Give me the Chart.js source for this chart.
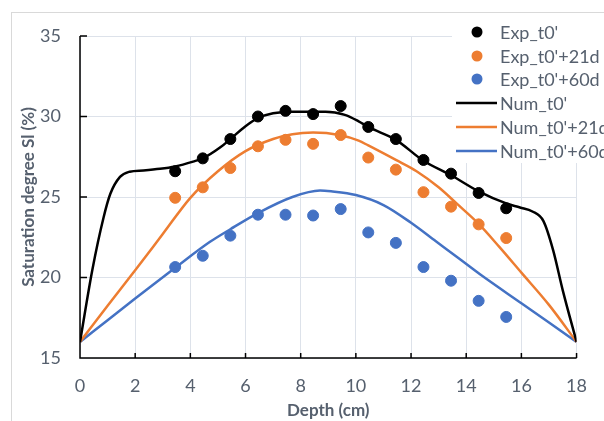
<!DOCTYPE html>
<html>
<head>
<meta charset="utf-8">
<script src="https://cdn.jsdelivr.net/npm/chart.js@4.4.1/dist/chart.umd.min.js"></script>
<style>
  html, body { margin: 0; padding: 0; background: #fff; }
  #wrap { width: 604px; height: 421px; position: relative; }
</style>
</head>
<body>
<div id="wrap"><canvas id="satChart" width="604" height="421"></canvas></div>
<script>
// measured points (depth in cm)
var expDepth = [3.45, 4.45, 5.45, 6.45, 7.45, 8.45, 9.45, 10.45, 11.45, 12.45, 13.45, 14.45, 15.45];
var expT0 = [26.6, 27.4, 28.6, 30.0, 30.35, 30.15, 30.65, 29.35, 28.6, 27.3, 26.45, 25.25, 24.3];
var expT21 = [24.95, 25.6, 26.8, 28.15, 28.55, 28.3, 28.85, 27.45, 26.7, 25.3, 24.4, 23.3, 22.45];
var expT60 = [20.65, 21.35, 22.6, 23.9, 23.9, 23.85, 24.25, 22.8, 22.15, 20.65, 19.8, 18.55, 17.55];

// numerical curves
var numDepth0 = [0, 0.45, 0.85, 1.1, 1.45, 1.8, 2.3, 2.9, 3.45, 4.1, 4.45, 5.1, 5.45, 6.0, 6.45, 7.0, 7.7, 8.9, 9.6, 10.1, 10.45, 11.45, 12.45, 13.45, 14.45, 15.45, 15.95, 16.4, 16.8, 17.15, 17.5, 18];
var numT0 = [16, 20.5, 23.7, 25.2, 26.25, 26.57, 26.65, 26.75, 26.9, 27.2, 27.4, 28.1, 28.6, 29.4, 29.9, 30.2, 30.3, 30.3, 30.1, 29.7, 29.35, 28.55, 27.25, 26.35, 25.35, 24.6, 24.35, 24.1, 23.5, 21.7, 19.2, 16];
var numDepth21 = [0, 1, 2, 3, 4, 5, 6, 7, 7.7, 8.45, 9.4, 10.1, 10.45, 11.45, 12.2, 13.0, 13.65, 14.47, 15.2, 16.0, 17.0, 18];
var numT21 = [16, 18.25, 20.45, 22.7, 24.95, 26.6, 27.85, 28.6, 28.9, 29.0, 28.85, 28.5, 28.2, 27.3, 26.6, 25.6, 24.6, 23.3, 21.9, 20.3, 18.3, 16];
var numDepth60 = [0, 1, 2, 3.45, 4.7, 5.45, 6.45, 7.7, 8.7, 9.1, 10.0, 11.0, 12.0, 12.9, 13.8, 14.5, 16.0, 17.0, 18];
var numT60 = [16, 17.35, 18.7, 20.6, 22.2, 23.0, 24.0, 25.0, 25.4, 25.35, 25.12, 24.5, 23.4, 22.25, 21.1, 20.2, 18.4, 17.2, 16];

var xTicks = [0, 2, 4, 6, 8, 10, 12, 14, 16, 18];
var yTicks = [15, 20, 25, 30, 35];

var BLACK = '#000000', ORANGE = '#ED7D31', BLUE = '#4472C4';
var textGray = '#56606e';
var gridGray = '#dde2ea';

function toPoints(xs, ys) {
    return xs.map(function (x, i) { return { x: x, y: ys[i] }; });
}

function dotSet(label, ys, color) {
    return {
        label: label,
        data: toPoints(expDepth, ys),
        showLine: false,
        pointRadius: 5.5,
        pointBackgroundColor: color,
        pointBorderColor: color,
        borderColor: color,
        order: 0
    };
}

function lineSet(label, xs, ys, color) {
    return {
        label: label,
        data: toPoints(xs, ys),
        showLine: true,
        pointRadius: 0,
        borderColor: color,
        borderWidth: 2.5,
        cubicInterpolationMode: 'monotone',
        order: 1
    };
}

// outer frame of the chart object
var framePlugin = {
    id: 'frame',
    beforeDraw: function (chart) {
        var ctx = chart.ctx;
        ctx.save();
        ctx.strokeStyle = '#d9d9d9';
        ctx.lineWidth = 1;
        ctx.strokeRect(11.5, 12.5, 800, 800);
        ctx.restore();
    }
};

// axis lines with inside tick marks
var axisPlugin = {
    id: 'axisTicks',
    afterDatasetsDraw: function (chart) {
        var ctx = chart.ctx, a = chart.chartArea;
        var xs = chart.scales.x, ys = chart.scales.y;
        ctx.save();
        ctx.strokeStyle = '#000';
        ctx.lineWidth = 1.5;
        ctx.beginPath();
        ctx.moveTo(a.left, a.top);
        ctx.lineTo(a.left, a.bottom);
        ctx.lineTo(a.right, a.bottom);
        xTicks.forEach(function (t) {
            var px = xs.getPixelForValue(t);
            ctx.moveTo(px, a.bottom);
            ctx.lineTo(px, a.bottom - 5);
        });
        yTicks.forEach(function (t) {
            var py = ys.getPixelForValue(t);
            ctx.moveTo(a.left, py);
            ctx.lineTo(a.left + 7, py);
        });
        ctx.stroke();
        ctx.restore();
    }
};

// legend box in the top right corner
var legendPlugin = {
    id: 'cornerLegend',
    afterDraw: function (chart) {
        var ctx = chart.ctx;
        ctx.save();
        ctx.fillStyle = '#fff';
        ctx.fillRect(452, 14, 152, 149);
        ctx.font = '18px Lato';
        ctx.textBaseline = 'middle';
        var rowY = [32, 56, 79, 103, 127, 151];
        chart.data.datasets.forEach(function (ds, i) {
            var y = rowY[i];
            if (ds.showLine) {
                ctx.strokeStyle = ds.borderColor;
                ctx.lineWidth = 2.5;
                ctx.beginPath();
                ctx.moveTo(456, y);
                ctx.lineTo(497, y);
                ctx.stroke();
            } else {
                ctx.fillStyle = ds.pointBackgroundColor;
                ctx.beginPath();
                ctx.arc(477, y, 5.5, 0, Math.PI * 2);
                ctx.fill();
            }
            ctx.fillStyle = textGray;
            ctx.fillText(ds.label, 500, y + 1);
        });
        ctx.restore();
    }
};

var ctx = document.getElementById('satChart').getContext('2d');
var satChart = new Chart(ctx, {
    type: 'scatter',
    data: {
        datasets: [
            dotSet("Exp_t0'", expT0, BLACK),
            dotSet("Exp_t0'+21d", expT21, ORANGE),
            dotSet("Exp_t0'+60d", expT60, BLUE),
            lineSet("Num_t0'", numDepth0, numT0, BLACK),
            lineSet("Num_t0'+21d", numDepth21, numT21, ORANGE),
            lineSet("Num_t0'+60d", numDepth60, numT60, BLUE)
        ]
    },
    options: {
        responsive: false,
        animation: false,
        devicePixelRatio: 1,
        layout: { padding: { top: 36, right: 27, left: 0, bottom: 0 } },
        plugins: {
            legend: { display: false },
            tooltip: { enabled: false }
        },
        scales: {
            x: {
                type: 'linear',
                min: 0,
                max: 18,
                afterFit: function (scale) { scale.height = 63; },
                afterBuildTicks: function (scale) {
                    scale.ticks = xTicks.map(function (v) { return { value: v }; });
                },
                grid: { color: gridGray, lineWidth: 1, drawTicks: false },
                border: { display: false },
                ticks: { color: textGray, font: { family: 'Lato', size: 18 }, padding: 17 },
                title: {
                    display: true,
                    text: 'Depth (cm)',
                    color: textGray,
                    font: { family: 'Lato', size: 17, weight: 'bold' },
                    padding: { top: 0, bottom: 0 }
                }
            },
            y: {
                type: 'linear',
                min: 15,
                max: 35,
                afterFit: function (scale) { scale.width = 80; },
                afterBuildTicks: function (scale) {
                    scale.ticks = yTicks.map(function (v) { return { value: v }; });
                },
                grid: { color: gridGray, lineWidth: 1, drawTicks: false },
                border: { display: false },
                ticks: { color: textGray, font: { family: 'Lato', size: 18 }, padding: 19 },
                title: {
                    display: true,
                    text: 'Saturation degree Sl (%)',
                    color: textGray,
                    font: { family: 'Lato', size: 17, weight: 'bold' },
                    padding: { top: 18, bottom: 0 }
                }
            }
        }
    },
    plugins: [framePlugin, axisPlugin, legendPlugin]
});
</script>
</body>
</html>
